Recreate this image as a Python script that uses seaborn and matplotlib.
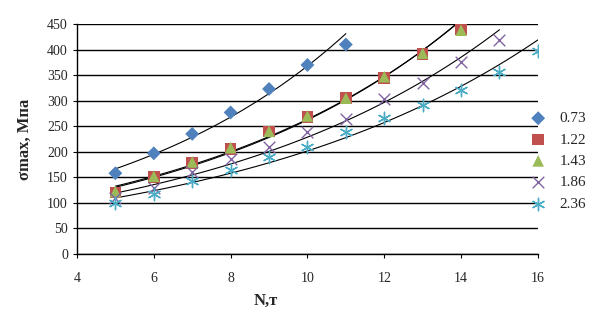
import numpy as np
import pandas as pd
import matplotlib
matplotlib.use("Agg")
import matplotlib.pyplot as plt
import seaborn as sns

# Data
labels = ["0.73", "1.22", "1.43", "1.86", "2.36"]
n_073 = [5, 6, 7, 8, 9, 10, 11]
s_073 = [158, 197, 235, 277, 323, 370, 410]
n_122 = [5, 6, 7, 8, 9, 10, 11, 12, 13, 14]
s_122 = [120, 150, 178, 205, 240, 268, 305, 345, 392, 440]
n_143 = [5, 6, 7, 8, 9, 10, 11, 12, 13, 14]
s_143 = [122, 152, 180, 208, 240, 270, 305, 347, 393, 438]
n_186 = [5, 6, 7, 8, 9, 10, 11, 12, 13, 14, 15]
s_186 = [110, 130, 160, 185, 210, 238, 265, 303, 335, 375, 418]
n_236 = [5, 6, 7, 8, 9, 10, 11, 12, 13, 14, 15, 16]
s_236 = [100, 118, 142, 165, 190, 210, 239, 267, 292, 321, 357, 398]

ns = [n_073, n_122, n_143, n_186, n_236]
ss = [s_073, s_122, s_143, s_186, s_236]
colors = ["#4F81BD", "#C0504D", "#9BBB59", "#8064A2", "#4BACC6"]
markers = ["D", "s", "^", "x", (6, 2, 0)]
sizes = [50, 70, 70, 70, 80]

sns.set_style("white")
plt.rcParams["font.family"] = ["Liberation Serif", "DejaVu Serif"]

fig = plt.figure(figsize=(5.99, 3.17), dpi=100)
ax = fig.add_axes([0.1285, 0.199, 0.7695, 0.725])

for n, s, lab, c, m, sz in zip(ns, ss, labels, colors, markers, sizes):
    df = pd.DataFrame({"N": n, "sigma": s})
    # exponential trend line, like Excel
    b, a = np.polyfit(df["N"], np.log(df["sigma"]), 1)
    xx = np.linspace(min(n), max(n), 100)
    ax.plot(xx, np.exp(a + b * xx), color="black", lw=0.8, zorder=2)
    line_m = m in ("x", (6, 2, 0))
    sns.scatterplot(data=df, x="N", y="sigma", ax=ax, color=c, marker=m, s=sz,
                    linewidth=1.0 if line_m else 0,
                    edgecolor=c if line_m else "none",
                    label=lab, zorder=3)

ax.set_xlim(4, 16)
ax.set_ylim(0, 450)
ax.set_xticks(range(4, 17, 2))
ax.set_yticks(range(0, 451, 50))
ax.yaxis.grid(True, color="black", lw=1.0)
ax.set_axisbelow(True)
for sp in ["top", "right"]:
    ax.spines[sp].set_visible(False)
for sp in ["left", "bottom"]:
    ax.spines[sp].set_color("black")
    ax.spines[sp].set_linewidth(1.0)
ax.tick_params(axis="both", labelsize=10, length=3, color="black", direction="out",
               left=True, bottom=True)
ax.tick_params(axis="x", pad=10)

ax.set_xlabel("N,т", fontsize=12, fontweight="bold")
ax.set_ylabel("σmax, Мпа", fontsize=12, fontweight="bold", labelpad=10)
ax.xaxis.set_label_coords(0.41, -0.17)

handles, labs = ax.get_legend_handles_labels()
ax.legend_.remove()
fig.legend(handles, labs, loc="center left", bbox_to_anchor=(0.85, 0.492),
           frameon=False, fontsize=11, handletextpad=0.4, labelspacing=0.5)

fig.savefig("out.png", dpi=100)
